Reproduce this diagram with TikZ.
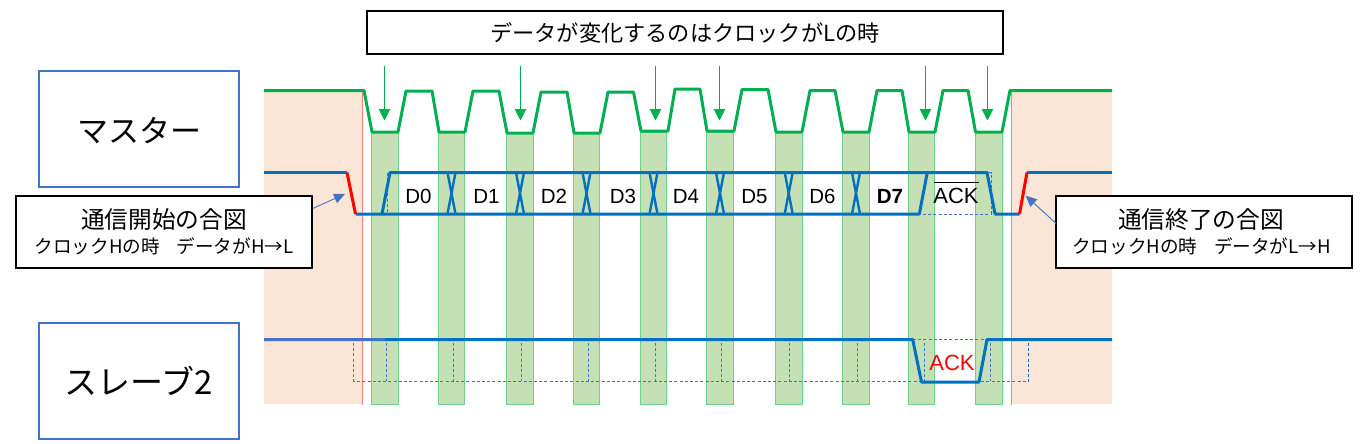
\documentclass[tikz,border=0pt]{standalone}
\usepackage{fontspec}
\setmainfont{Noto Sans CJK JP}
\newfontfamily\latinf{Liberation Sans}
\usetikzlibrary{arrows.meta}
\definecolor{peach}{HTML}{FBE5D6}
\definecolor{bandfill}{HTML}{C5E0B4}
\definecolor{bandline}{HTML}{6FD08A}
\definecolor{clockg}{HTML}{00B050}
\definecolor{datab}{HTML}{0070C0}
\definecolor{lightb}{HTML}{4472C4}
\definecolor{pinkline}{HTML}{FF7C80}
\tikzset{
  peachbg/.style={fill=peach,draw=none},
  band/.style={fill=bandfill,draw=bandline,line width=0.9pt},
  edgeline/.style={draw=pinkline,line width=0.9pt},
  clockline/.style={draw=clockg,line width=3pt,line join=round},
  dataline/.style={draw=datab,line width=3pt,line join=round},
  startstop/.style={draw=red,line width=3pt},
  guide/.style={draw=lightb,line width=0.9pt,dash pattern=on 3pt off 2.2pt},
  guideb/.style={draw=datab,line width=0.9pt,dash pattern=on 3pt off 2.2pt},
  downarrow/.style={draw=clockg,line width=0.9pt,-{Triangle[width=11.5pt,length=11.5pt]}},
  callarrow/.style={draw=lightb,line width=0.9pt,-{Triangle[width=10pt,length=11pt]}},
  rolebox/.style={draw=lightb,line width=1.1pt,minimum width=200pt,minimum height=116pt,inner sep=0pt},
  notebox/.style={draw=black,line width=1.5pt,fill=white,minimum width=296pt,minimum height=72pt,inner sep=0pt,align=center,font=\fontsize{18.6}{25}\selectfont},
  headbox/.style={draw=black,line width=1.1pt,fill=white,minimum width=636pt,minimum height=43pt,inner sep=0pt,font=\fontsize{22.2}{26}\selectfont},
  bitlabel/.style={font=\latinf\fontsize{20.5}{24}\selectfont,inner sep=0pt,anchor=base},
}
\begin{document}
\begin{tikzpicture}[x=1pt,y=-1pt]
\useasboundingbox (0,0) rectangle (1360,444);
\fill[peachbg] (264,91) rectangle (362.5,404);
\fill[peachbg] (1011.5,91) rectangle (1112,404);
\foreach \a/\b in {371.3/398.3,438.3/464.5,506.3/533.3,573.3/599.5,640.3/666.7,706.5/733.5,775/802.5,842.5/869.5,908.3/934.7,975.3/1002.5}
  \draw[band] (\a,132) rectangle (\b,404);
\draw[edgeline] (362.5,91) -- (362.5,405);
\draw[edgeline] (1011.5,91) -- (1011.5,405);

% clock
\draw[clockline] (264,90.5) -- (364,90.5) -- (372,132) -- (398,132) -- (406,91) -- (432,91) -- (439,132) -- (465,132) -- (473,91) -- (499,91) -- (507,133) -- (533,133) -- (541,92) -- (567,92) -- (574,133) -- (600,133) -- (608,92) -- (633.5,92) -- (641,131) -- (668,131) -- (675,89) -- (700,89) -- (707,131) -- (734,131) -- (742,89.5) -- (768,89.5) -- (776,132) -- (802,132) -- (810,90.5) -- (835,90.5) -- (843,132) -- (869,132) -- (877,90.5) -- (902,90.5) -- (909,132) -- (935,132) -- (943,90.5) -- (968,90.5) -- (975.5,132) -- (1002,132) -- (1010,90.5) -- (1112,90.5);

% data guides
\draw[guide] (387,172.5) -- (387,214);
\draw[guide] (923,214) -- (991,214) -- (991,172.5) -- (987,172.5);

% data
\draw[dataline] (264,172.5) -- (347,172.5);
\draw[dataline] (355.5,214) -- (919.3,214) -- (927.3,172.5);
\draw[dataline] (382,214) -- (390,172.5) -- (987,172.5) -- (995,214) -- (1019.5,214);
\draw[dataline] (1027,172.5) -- (1112,172.5);
\foreach \c in {451.5,520,586.5,653.5,720,788.7,856}{
  \draw[draw=datab,line width=2.4pt] (\c-4,172.5) -- (\c+4,214);
  \draw[draw=datab,line width=2.4pt] (\c+4,172.5) -- (\c-4,214);
}
\draw[startstop] (347,172.5) -- (355.5,214);
\draw[startstop] (1019.5,214) -- (1027,172.5);

% slave guides
\draw[guide] (353.5,343) -- (353.5,381) -- (1028.5,381);
\foreach \x in {386.5,453.5,521.5,588,655,721,789,857,924.5,990.5}
  \draw[guide] (\x,343) -- (\x,381);
\draw[guideb] (1028.5,343) -- (1028.5,381);
\draw[guide] (913,339.5) -- (987,339.5);

% slave line
\draw[dataline] (264,339.5) -- (912.7,339.5) -- (921.5,382) -- (979,382) -- (987,339.5) -- (1112,339.5);
\draw[draw=lightb,line width=3pt] (264,339.5) -- (385,339.5);

% header and boxes
\node[headbox] (head) at (685,32.5) {データが変化するのはクロックがLの時};
\node[rolebox,font=\fontsize{31}{36}\selectfont,text height=26pt,text depth=6pt] (master) at (139,129) {\raisebox{-3pt}{マスター}};
\node[rolebox,font=\fontsize{33}{38}\selectfont] (slave) at (139,381) {\raisebox{-3pt}{スレーブ2}};
\node[notebox] (startnote) at (164,232) {{\fontsize{23.7}{25}\selectfont 通信開始の合図}\\{クロックHの時\hspace{0.9em}データがH→L}};
\node[notebox] (stopnote) at (1204,232) {{\fontsize{23.7}{25}\selectfont 通信終了の合図}\hspace*{6pt}\\{クロックHの時\hspace{0.9em}データがL→H}\hspace*{5pt}};

% green arrows
\foreach \n/\x in {a/384.5,b/520.5,c/655.5,d/719.5,e/925.5,f/987.5}{
  \coordinate (\n top) at (\x,66);
  \coordinate (\n tip) at (\x,120.5);
  \draw[downarrow] (\n top) -- (\n tip);
}

% callout arrows
\coordinate (starttip) at (345,194);
\coordinate (stoptip) at (1025.7,195.7);
\coordinate (startfoot) at (312.7,208.5);
\coordinate (stopfoot) at (1056.2,223.5);
\draw[callarrow] (startfoot) -- (starttip);
\draw[callarrow] (stopfoot) -- (stoptip);

% bit labels
\node[bitlabel] (d0) at (418.5,203) {D0};
\node[bitlabel] (d1) at (486.5,203) {D1};
\node[bitlabel] (d2) at (554,203) {D2};
\node[bitlabel] (d3) at (623,203) {D3};
\node[bitlabel] (d4) at (686,203) {D4};
\node[bitlabel] (d5) at (754.5,203) {D5};
\node[bitlabel] (d6) at (822.5,203) {D6};
\node[bitlabel,font=\latinf\bfseries\fontsize{20.5}{24}\selectfont] (d7) at (890,203) {D7};
\node[bitlabel,font=\latinf\fontsize{22}{24}\selectfont] (nack) at (956,203) {ACK};
\draw[draw=black,line width=1pt] (933.5,182.5) -- (979,182.5);
\node[bitlabel,text=red,font=\latinf\fontsize{22}{24}\selectfont] (ack) at (952,370) {ACK};
\end{tikzpicture}
\end{document}
